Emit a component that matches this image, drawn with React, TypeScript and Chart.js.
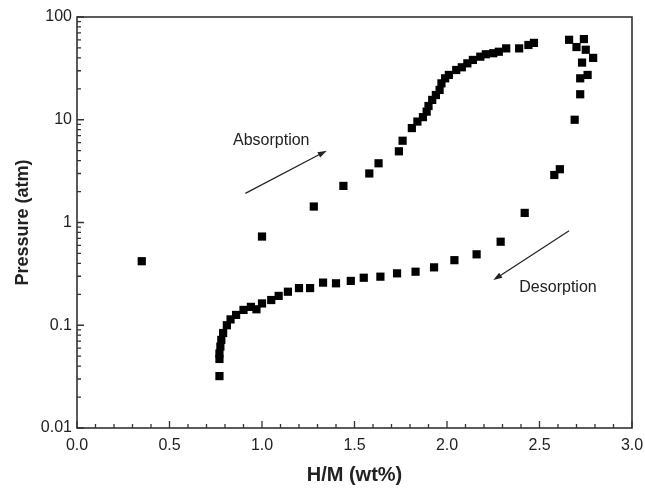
import { useEffect, useRef } from "react";
import { Chart, registerables } from "chart.js";
Chart.register(...registerables);

// H/M (wt%) and pressure (atm)
const absorptionX = [0.35, 1.0, 1.28, 1.44, 1.58, 1.63, 1.74, 1.76, 1.81, 1.84, 1.87, 1.89, 1.9, 1.92, 1.94, 1.96, 1.97, 1.99, 2.01, 2.05, 2.08, 2.11, 2.14, 2.18, 2.21, 2.25, 2.28, 2.32, 2.39, 2.44, 2.47];
const absorptionY = [0.42, 0.73, 1.43, 2.27, 3.0, 3.77, 4.93, 6.25, 8.3, 9.6, 10.6, 12, 13.6, 15.6, 17.4, 19.5, 22.6, 25.3, 27.3, 30.5, 32.4, 35.4, 38.2, 41.1, 43.4, 44.4, 45.9, 49.5, 49.5, 53.4, 56];

const desorptionX = [2.66, 2.74, 2.7, 2.75, 2.79, 2.73, 2.76, 2.72, 2.72, 2.69, 2.61, 2.58, 2.42, 2.29, 2.16, 2.04, 1.93, 1.83, 1.73, 1.64, 1.55, 1.48, 1.4, 1.33, 1.26, 1.2, 1.14, 1.09, 1.05, 1.0, 0.97, 0.94, 0.9, 0.86, 0.83, 0.81, 0.79, 0.78, 0.775, 0.77, 0.77, 0.77];
const desorptionY = [60, 61, 51, 48, 40, 36, 27.3, 25.3, 17.7, 10, 3.3, 2.9, 1.24, 0.65, 0.49, 0.43, 0.366, 0.332, 0.32, 0.297, 0.29, 0.27, 0.256, 0.26, 0.23, 0.23, 0.212, 0.193, 0.176, 0.163, 0.143, 0.151, 0.141, 0.126, 0.114, 0.1, 0.084, 0.072, 0.062, 0.053, 0.047, 0.032];

const xMin = 0;
const xMax = 3;
const xStep = 0.5;
const yMin = 0.01;
const yMax = 100;
const xTitle = "H/M (wt%)";
const yTitle = "Pressure (atm)";

// annotation labels and arrows, in data units
const noteLabels = ["Absorption", "Desorption"];
const noteTextX = [1.05, 2.6];
const noteTextY = [6.2, 0.235];
const arrowFromX = [0.91, 2.66];
const arrowFromY = [1.92, 0.83];
const arrowToX = [1.35, 2.25];
const arrowToY = [5.0, 0.275];

const INK = "#222";
const FONT = "'Liberation Sans', Arial, Helvetica, sans-serif";

const framePlugin = {
  id: "frame",
  afterDraw(chart: any) {
    const ctx = chart.ctx;
    const { left, right, top, bottom } = chart.chartArea;
    const xs = chart.scales.x;
    const ys = chart.scales.y;
    ctx.save();
    ctx.strokeStyle = "#333";
    ctx.lineWidth = 1.6;
    ctx.strokeRect(left, top, right - left, bottom - top);
    ctx.lineWidth = 1.3;
    // x ticks
    const majors = xs.ticks.map((t: any) => t.value);
    ctx.beginPath();
    for (let i = 0; i < majors.length; i++) {
      const px = xs.getPixelForValue(majors[i]);
      ctx.moveTo(px, bottom);
      ctx.lineTo(px, bottom - 7);
      if (i < majors.length - 1) {
        const step = (majors[i + 1] - majors[i]) / 5;
        for (let k = 1; k < 5; k++) {
          const mx = xs.getPixelForValue(majors[i] + step * k);
          ctx.moveTo(mx, bottom);
          ctx.lineTo(mx, bottom - 4);
        }
      }
    }
    // y ticks
    const decades = ys.ticks
      .map((t: any) => t.value)
      .filter((v: number) => Math.abs(Math.log10(v) - Math.round(Math.log10(v))) < 1e-6);
    for (const d of decades) {
      const py = ys.getPixelForValue(d);
      ctx.moveTo(left, py);
      ctx.lineTo(left + 7, py);
      if (d < yMax) {
        for (let k = 2; k <= 9; k++) {
          const my = ys.getPixelForValue(d * k);
          ctx.moveTo(left, my);
          ctx.lineTo(left + 4, my);
        }
      }
    }
    ctx.stroke();

    // annotations
    ctx.fillStyle = INK;
    ctx.strokeStyle = INK;
    ctx.font = `16px ${FONT}`;
    ctx.textAlign = "center";
    ctx.textBaseline = "middle";
    for (let i = 0; i < noteLabels.length; i++) {
      ctx.fillText(noteLabels[i], xs.getPixelForValue(noteTextX[i]), ys.getPixelForValue(noteTextY[i]));
      const x0 = xs.getPixelForValue(arrowFromX[i]);
      const y0 = ys.getPixelForValue(arrowFromY[i]);
      const x1 = xs.getPixelForValue(arrowToX[i]);
      const y1 = ys.getPixelForValue(arrowToY[i]);
      const ang = Math.atan2(y1 - y0, x1 - x0);
      const hl = 9;
      const hw = 3;
      ctx.lineWidth = 1.2;
      ctx.beginPath();
      ctx.moveTo(x0, y0);
      ctx.lineTo(x1 - Math.cos(ang) * hl * 0.8, y1 - Math.sin(ang) * hl * 0.8);
      ctx.stroke();
      ctx.beginPath();
      ctx.moveTo(x1, y1);
      ctx.lineTo(x1 - Math.cos(ang) * hl - Math.sin(ang) * hw, y1 - Math.sin(ang) * hl + Math.cos(ang) * hw);
      ctx.lineTo(x1 - Math.cos(ang) * hl + Math.sin(ang) * hw, y1 - Math.sin(ang) * hl - Math.cos(ang) * hw);
      ctx.closePath();
      ctx.fill();
    }
    ctx.restore();
  },
};

export default function App() {
  const ref = useRef<HTMLCanvasElement | null>(null);
  useEffect(() => {
    if (!ref.current) return;
    const toPts = (xs: number[], ys: number[]) => xs.map((x, i) => ({ x, y: ys[i] }));
    const chart = new Chart(ref.current, {
      type: "scatter",
      data: {
        datasets: [
          {
            label: "Absorption",
            data: toPts(absorptionX, absorptionY),
            pointStyle: "rect",
            pointRadius: 5.8,
            backgroundColor: "#000",
            borderColor: "#000",
            borderWidth: 0,
          },
          {
            label: "Desorption",
            data: toPts(desorptionX, desorptionY),
            pointStyle: "rect",
            pointRadius: 5.8,
            backgroundColor: "#000",
            borderColor: "#000",
            borderWidth: 0,
          },
        ],
      },
      options: {
        responsive: false,
        animation: false,
        layout: { padding: { top: 17, right: 13, left: 0, bottom: 0 } },
        plugins: { legend: { display: false }, tooltip: { enabled: false } },
        scales: {
          x: {
            type: "linear",
            min: xMin,
            max: xMax,
            grid: { display: false, drawTicks: false },
            border: { display: false },
            ticks: {
              stepSize: xStep,
              padding: 8,
              color: INK,
              font: { family: FONT, size: 16 },
              callback: (v: any) => Number(v).toFixed(1),
            },
            title: {
              display: true,
              text: xTitle,
              color: INK,
              font: { family: FONT, size: 20, weight: "bold" },
              padding: { top: 0, bottom: 1 },
            },
            afterFit: (s: any) => {
              s.height = 60;
              s.paddingLeft = 0;
              s.paddingRight = 0;
            },
          },
          y: {
            type: "logarithmic",
            min: yMin,
            max: yMax,
            grid: { display: false, drawTicks: false },
            border: { display: false },
            ticks: {
              autoSkip: false,
              padding: 5,
              color: INK,
              font: { family: FONT, size: 16 },
              callback: (v: any) => {
                const l = Math.log10(Number(v));
                return Math.abs(l - Math.round(l)) < 1e-6 ? String(Number(v)) : null;
              },
            },
            title: {
              display: true,
              text: yTitle,
              color: INK,
              font: { family: FONT, size: 18, weight: "bold" },
              padding: { top: 12, bottom: 0 },
            },
            afterFit: (s: any) => {
              s.width = 77;
              s.paddingTop = 0;
              s.paddingBottom = 0;
            },
          },
        },
      },
      plugins: [framePlugin],
    } as any);
    return () => chart.destroy();
  }, []);
  return (
    <div style={{ position: "fixed", left: 0, top: 0, width: 645, height: 488, background: "#fff" }}>
      <canvas ref={ref} width={645} height={488} />
    </div>
  );
}
